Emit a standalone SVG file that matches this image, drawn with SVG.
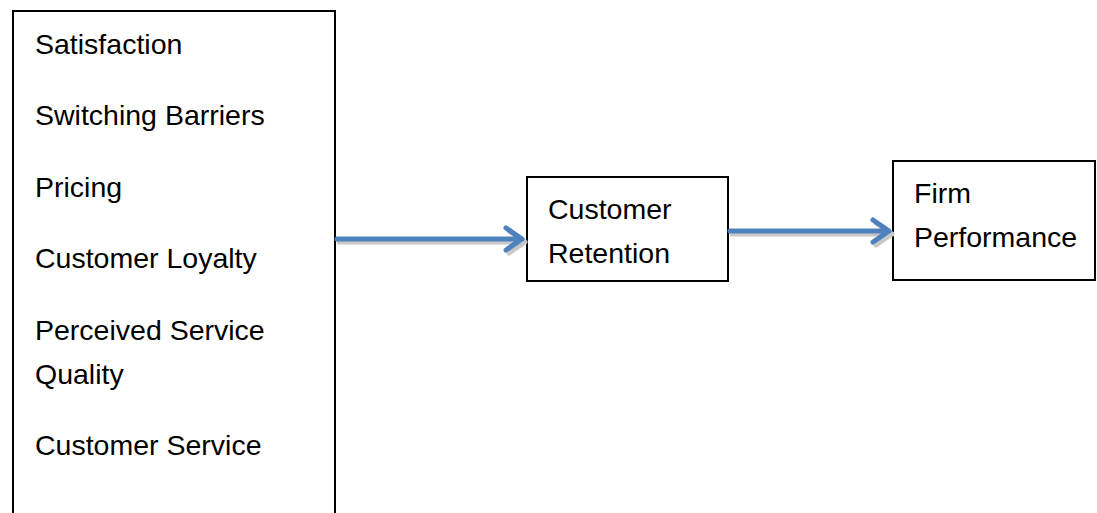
<svg xmlns="http://www.w3.org/2000/svg" width="1097" height="513" viewBox="0 0 1097 513">
  <defs>
    <style>
      .box { fill: #ffffff; stroke: #000000; stroke-width: 2; }
      .t { font-family: "Liberation Sans", Arial, sans-serif; font-size: 28.5px; fill: #000000; }
      .conn { fill: none; stroke: #4F81BD; stroke-width: 5; stroke-linecap: round; stroke-linejoin: round; }
      .shadow { fill: none; stroke: #c8c8c8; stroke-width: 5; stroke-linecap: round; stroke-linejoin: round; }
    </style>
  </defs>
  <rect width="1097" height="513" fill="#ffffff"/>

  <g id="factors">
    <path class="box" d="M13,520 L13,11 L335,11 L335,520"/>
    <text class="t" x="35" y="54">Satisfaction</text>
    <text class="t" x="35" y="125">Switching Barriers</text>
    <text class="t" x="35" y="197">Pricing</text>
    <text class="t" x="35" y="268">Customer Loyalty</text>
    <text class="t" x="35" y="340">Perceived Service</text>
    <text class="t" x="35" y="384">Quality</text>
    <text class="t" x="35" y="455">Customer Service</text>
  </g>

  <g id="retention">
    <rect class="box" x="527" y="177" width="201" height="104"/>
    <text class="t" x="548" y="219">Customer</text>
    <text class="t" x="548" y="263">Retention</text>
  </g>

  <g id="performance">
    <rect class="box" x="893" y="161" width="202" height="119"/>
    <text class="t" x="914" y="203">Firm</text>
    <text class="t" x="914" y="247">Performance</text>
  </g>

  <g id="connectors">
    <path class="shadow" d="M339,242 L525,242 M509,231 L525,242 L509,253"/>
    <path class="conn" d="M337,239 L522,239 M506,228 L522,239 L506,250"/>
    <path class="shadow" d="M732,234 L892,234 M876,223 L892,234 L876,245"/>
    <path class="conn" d="M730,231 L889,231 M873,220 L889,231 L873,242"/>
  </g>
</svg>
